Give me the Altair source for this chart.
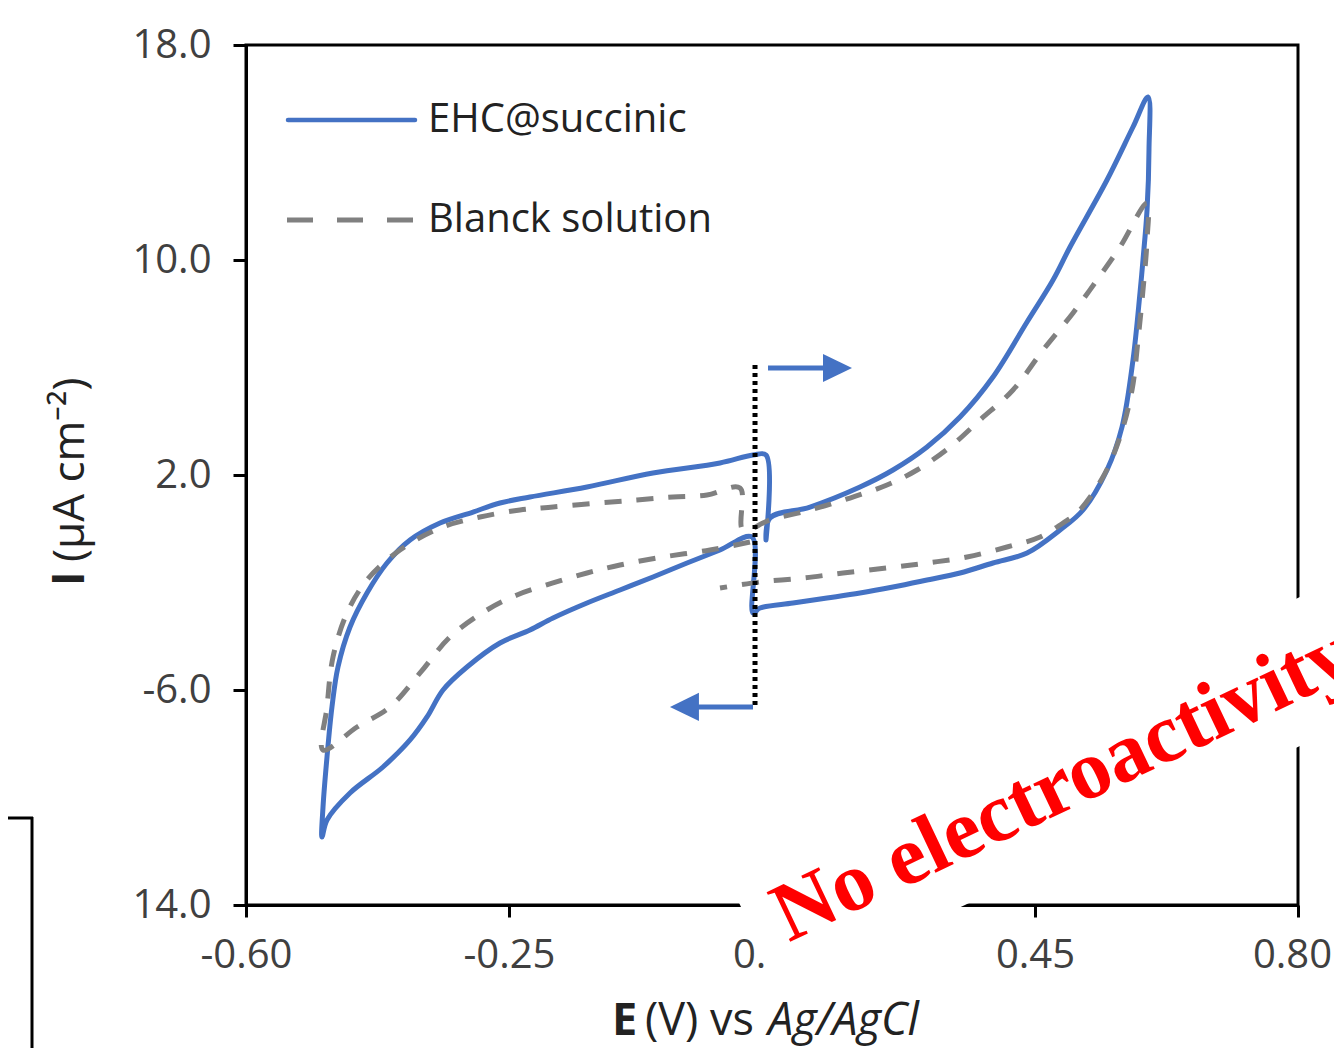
import altair as alt
import pandas as pd

# ---------------- data ----------------
E_DOMAIN = [-0.6, 0.8]
I_DOMAIN = [-14.0, 18.0]
x_ticks = [-0.60, -0.25, 0.10, 0.45, 0.80]
y_ticks = [-14.0, -6.0, 2.0, 10.0, 18.0]

series_names = ["EHC@succinic", "Blanck solution"]

# EHC@succinic (solid blue) : E in V, I in uA cm-2, in plotting order
ehc_E = [0.0920, 0.0973, 0.1506, 0.2171, 0.2610, 0.3063, 0.3502, 0.3941, 0.4394, 0.4740,
         0.4966, 0.5458, 0.5804, 0.6004, 0.6017, 0.5991, 0.5937, 0.5897, 0.5804, 0.5658,
         0.5458, 0.5139, 0.4833, 0.4394, 0.3941, 0.3502, 0.3063, 0.2610, 0.2171, 0.1732,
         0.1279, 0.0840, 0.0747, 0.0734, 0.0308, -0.0131, -0.0584, -0.1023, -0.1462, -0.1914,
         -0.2221, -0.2620, -0.3059, -0.3378, -0.3591, -0.3817, -0.4177, -0.4616, -0.4922, -0.4989,
         -0.4975, -0.4922, -0.4856, -0.4776, -0.4616, -0.4390, -0.4124, -0.3817, -0.3418, -0.2979,
         -0.2620, -0.2221, -0.1462, -0.0584, 0.0308, 0.0747, 0.0920, 0.0920]
ehc_I = [-0.418, 0.400, 0.809, 1.554, 2.186, 3.042, 4.158, 5.647, 7.693, 9.256,
         10.484, 12.977, 14.949, 16.065, 14.093, 11.861, 10.000, 8.772, 6.279, 3.786,
         2.186, 0.698, -0.046, -0.902, -1.274, -1.646, -1.907, -2.167, -2.391, -2.577,
         -2.763, -2.949, -3.135, -0.307, -0.791, -1.274, -1.795, -2.279, -2.763, -3.321,
         -3.767, -4.251, -5.144, -6.000, -7.004, -7.860, -8.865, -9.832, -10.837, -11.470,
         -10.353, -8.493, -6.632, -5.144, -3.656, -2.391, -1.274, -0.418, 0.214, 0.623,
         0.958, 1.182, 1.554, 2.075, 2.447, 2.744, 2.744, -0.418]

# Blanck solution (dashed grey)
blank_E = [0.0707, 0.0175, -0.0451, -0.1023, -0.1462, -0.1914, -0.2394, -0.2793, -0.3285, -0.3684,
           -0.4084, -0.4523, -0.4975, -0.4922, -0.4842, -0.4656, -0.4390, -0.3951, -0.3418, -0.2886,
           -0.2354, -0.1914, -0.1329, -0.0797, -0.0318, 0.0135, 0.0574, 0.0614, 0.0973, 0.1506,
           0.2038, 0.2530, 0.2930, 0.3369, 0.3768, 0.4207, 0.4607, 0.5006, 0.5325, 0.5631,
           0.5991, 0.5991, 0.5937, 0.5871, 0.5791, 0.5631, 0.5405, 0.5059, 0.4873, 0.4567,
           0.4127, 0.3595, 0.3063, 0.2530, 0.1945, 0.1413, 0.0840, 0.0308]
blank_I = [-0.493, -0.791, -1.051, -1.349, -1.646, -2.018, -2.465, -3.023, -4.028, -5.367,
           -6.632, -7.377, -8.232, -6.632, -4.772, -3.135, -1.907, -0.791, 0.028, 0.437,
           0.698, 0.809, 0.958, 1.070, 1.182, 1.256, 1.516, -0.046, 0.326, 0.698,
           1.144, 1.628, 2.186, 3.042, 4.047, 5.163, 6.651, 8.028, 9.256, 10.484,
           12.121, 10.744, 8.884, 7.023, 5.163, 3.414, 1.926, 0.586, 0.214, -0.307,
           -0.679, -1.051, -1.274, -1.460, -1.646, -1.832, -1.981, -2.204]

# scan-direction annotation (in data units)
switch_E = 0.0774
switch_I = [6.09, -6.63]
fwd_E = [0.0947, 0.1706]
fwd_I = 5.98
fwd_head_E = 0.1872
rev_E = [0.0747, 0.0002]
rev_I = -6.63
rev_head_E = -0.0165

# ---------------- styling ----------------
BLUE = "#4472C4"
GREY = "#808080"
FONT = "Open Sans"
TXT = "#222222"

ehc_df = pd.DataFrame({"E": ehc_E, "I": ehc_I, "k": range(len(ehc_E))})
blank_df = pd.DataFrame({"E": blank_E, "I": blank_I, "k": range(len(blank_E))})
one = pd.DataFrame({"d": [0]})

x_axis = alt.Axis(values=x_ticks, title=None, grid=False,
                  labelExpr="(datum.value < 0 ? '-' : '') + format(abs(datum.value), '.2f')",
                  labelOffset={"condition": {"test": "datum.value > 0.7", "value": -6}, "value": 0},
                  domainColor="black", domainWidth=3, tickColor="black", tickWidth=3,
                  tickSize=12, labelFont=FONT, labelFontSize=40, labelColor="#404040",
                  labelPadding=18, labelFlush=False, labelOverlap=False)
y_axis = alt.Axis(values=y_ticks, title=None, grid=False,
                  labelExpr="datum.value == -14 ? '14.0' : (datum.value < 0 ? '-' : '') + format(abs(datum.value), '.1f')",
                  domainColor="black", domainWidth=3, tickColor="black", tickWidth=3,
                  tickSize=13, labelFont=FONT, labelFontSize=40, labelColor="#404040",
                  labelPadding=22, labelFlush=False, labelOverlap=False)

xs = alt.Scale(domain=E_DOMAIN, nice=False, zero=False)
ys = alt.Scale(domain=I_DOMAIN, nice=False, zero=False)


def X(field="E"):
    return alt.X(f"{field}:Q", scale=xs, axis=x_axis)


def Y(field="I"):
    return alt.Y(f"{field}:Q", scale=ys, axis=y_axis)


ehc_line = alt.Chart(ehc_df).mark_line(color=BLUE, strokeWidth=5, strokeJoin="round",
                                       strokeCap="round", interpolate="catmull-rom").encode(
    x=X(), y=Y(), order="k:Q")
blank_line = alt.Chart(blank_df).mark_line(color=GREY, strokeWidth=5, strokeDash=[17, 15],
                                           strokeJoin="round", interpolate="catmull-rom").encode(
    x=X(), y=Y(), order="k:Q")

# white box behind the rotated annotation (covers axis lines, as in the figure)
mask_path = "M -0.7745 0.554 L -0.9188 0.2503 L 0.7745 -0.554 L 0.9188 -0.2503 Z"
mask = alt.Chart(one).mark_point(shape=mask_path, size=640000, filled=True, fill="white",
                                 opacity=1, strokeWidth=0).encode(
    x=alt.value(845.3), y=alt.value(725.6))
no_text = alt.Chart(one).mark_text(text="No electroactivity", font="Liberation Serif",
                                   fontWeight="bold", fontSize=84, color="#FF0000",
                                   angle=334.6, align="left", baseline="middle").encode(
    x=alt.value(532), y=alt.value(875))

# dotted switching line and arrows
sw_df = pd.DataFrame({"E": [switch_E], "I": [switch_I[0]], "I2": [switch_I[1]]})
dotted = alt.Chart(sw_df).mark_rule(color="black", strokeWidth=5, strokeDash=[4, 4]).encode(
    x=X(), y=Y(), y2="I2:Q")
arr_df = pd.DataFrame({"E": [fwd_E[0], rev_E[0]], "E2": [fwd_E[1], rev_E[1]],
                       "I": [fwd_I, rev_I]})
shafts = alt.Chart(arr_df).mark_rule(color=BLUE, strokeWidth=5).encode(
    x=X(), x2="E2:Q", y=Y())
head_r = alt.Chart(pd.DataFrame({"E": [fwd_head_E], "I": [fwd_I]})).mark_point(
    shape="M 1 0 L -1 -0.97 L -1 0.97 Z", size=841, filled=True, fill=BLUE, opacity=1,
    strokeWidth=0).encode(x=X(), y=Y())
head_l = alt.Chart(pd.DataFrame({"E": [rev_head_E], "I": [rev_I]})).mark_point(
    shape="M -1 0 L 1 -0.97 L 1 0.97 Z", size=841, filled=True, fill=BLUE, opacity=1,
    strokeWidth=0).encode(x=X(), y=Y())

# legend (inside plot, top-left)
leg1 = alt.Chart(one).mark_rule(color=BLUE, strokeWidth=4.5, strokeCap="round").encode(
    x=alt.value(42), x2=alt.value(169), y=alt.value(75))
leg2 = alt.Chart(one).mark_rule(color=GREY, strokeWidth=5, strokeDash=[26, 24]).encode(
    x=alt.value(41), x2=alt.value(170), y=alt.value(175))
leg1t = alt.Chart(one).mark_text(text=series_names[0], align="left", baseline="middle",
                                 font=FONT, fontSize=40, color=TXT).encode(
    x=alt.value(182), y=alt.value(75))
leg2t = alt.Chart(one).mark_text(text=series_names[1], align="left", baseline="middle",
                                 font=FONT, fontSize=40, color=TXT).encode(
    x=alt.value(182), y=alt.value(175))

# axis titles with mixed styles
xt1 = alt.Chart(one).mark_text(text="E", align="left", baseline="alphabetic", font=FONT,
                               fontSize=45, fontWeight="bold", color=TXT).encode(
    x=alt.value(366), y=alt.value(990))
xt2 = alt.Chart(one).mark_text(text="(V) vs", align="left", baseline="alphabetic", font=FONT,
                               fontSize=45, color=TXT).encode(
    x=alt.value(399), y=alt.value(990))
xt3 = alt.Chart(one).mark_text(text="Ag/AgCl", align="left", baseline="alphabetic", font=FONT,
                               fontSize=45, fontStyle="italic", color=TXT).encode(
    x=alt.value(522), y=alt.value(990))
yt1 = alt.Chart(one).mark_text(text="I", align="left", baseline="middle", font=FONT,
                               fontSize=44, fontWeight="bold", angle=270,
                               color=TXT).encode(x=alt.value(-175), y=alt.value(541))
yt2 = alt.Chart(one).mark_text(text="(µA cm⁻²)", align="left", baseline="middle", font=FONT,
                               fontSize=44, angle=270, color=TXT).encode(
    x=alt.value(-175), y=alt.value(517))

# stray frame corner at lower left of the figure
br1 = alt.Chart(one).mark_rule(color="black", strokeWidth=3).encode(
    x=alt.value(-240), x2=alt.value(-213), y=alt.value(773))
br2 = alt.Chart(one).mark_rule(color="black", strokeWidth=3).encode(
    x=alt.value(-214), y=alt.value(772), y2=alt.value(1010))

chart = alt.layer(
    ehc_line, blank_line, mask, no_text, dotted, shafts, head_r, head_l,
    leg1, leg2, leg1t, leg2t, xt1, xt2, xt3, yt1, yt2, br1, br2
).properties(
    width=1052, height=860,
    autosize=alt.AutoSizeParams(type="none"),
    padding={"left": 238, "top": 37, "right": 36, "bottom": 143},
    background="white",
).configure_view(stroke="black", strokeWidth=3)

chart.save("out.html", embed_options={"renderer": "svg", "actions": False})
